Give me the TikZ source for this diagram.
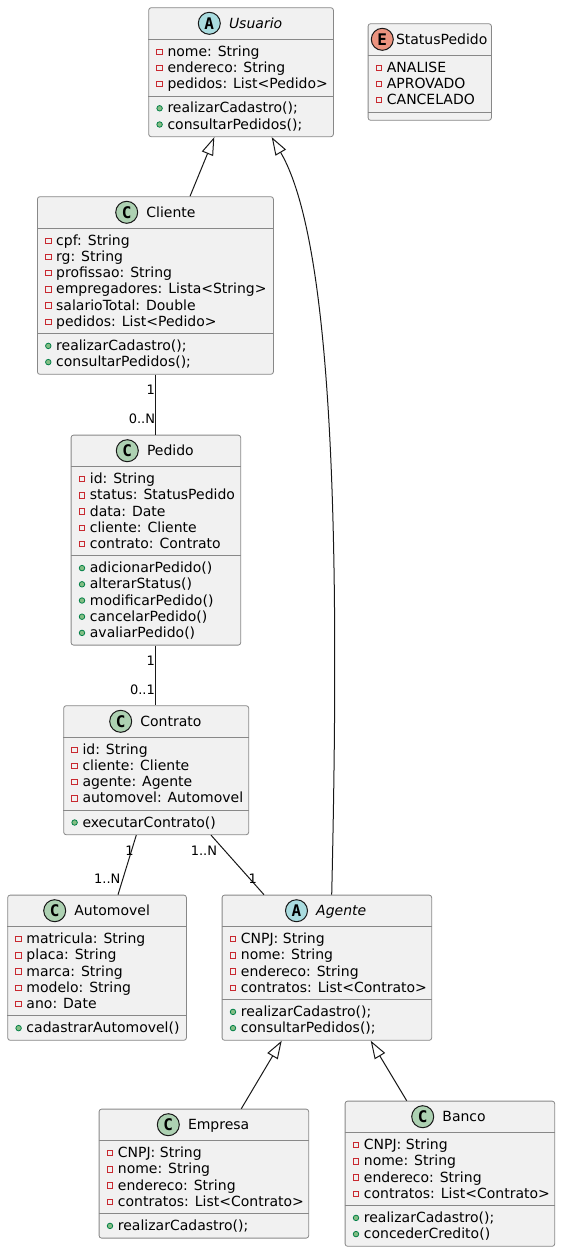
\documentclass[tikz,border=0pt]{standalone}
\usepackage{fontspec}
\setmainfont{DejaVu Sans}
\newfontfamily\spotfont{DejaVu Sans Mono}
\usetikzlibrary{arrows.meta,positioning}
\definecolor{boxfill}{HTML}{F1F1F1}
\definecolor{boxline}{HTML}{181818}
\definecolor{frameline}{HTML}{888888}
\definecolor{spotC}{HTML}{ADD1B2}
\definecolor{spotA}{HTML}{A9DCDF}
\definecolor{spotE}{HTML}{EB937F}
\definecolor{privred}{HTML}{C82930}
\definecolor{pubfill}{HTML}{84BE84}
\definecolor{publine}{HTML}{038048}

\begin{document}
\begin{tikzpicture}[x=1pt, y=-1pt,
    classbox/.style = {draw=frameline, line width=0.8pt, fill=boxfill,
      rounded corners=2.5pt, anchor=north west, inner sep=0pt},
    spot/.style = {circle, draw=boxline, line width=1pt, minimum size=22pt,
      inner sep=0pt, font=\spotfont\bfseries\fontsize{16}{16}\selectfont},
    ctitle/.style = {inner sep=0pt, text height=10pt, text depth=0pt,
      font=\fontsize{14}{16.2}\selectfont},
    abstract/.style = {font=\fontsize{14}{16.2}\selectfont\itshape},
    attr/.style = {inner sep=0pt, anchor=base west, font=\fontsize{14}{16.2}\selectfont},
    priv/.style = {draw=privred, line width=0.9pt, minimum size=5.5pt, inner sep=0pt},
    pub/.style = {circle, draw=publine, fill=pubfill, line width=0.8pt,
      minimum size=5.5pt, inner sep=0pt},
    sepline/.style = {draw=frameline, line width=0.8pt},
    extends/.style = {draw=boxline, line width=1pt,
      -{Triangle[open, length=18pt, width=12pt]}},
    assoc/.style = {draw=boxline, line width=1pt},
    mult/.style = {inner sep=0pt, font=\fontsize{13}{15}\selectfont}]
  \useasboundingbox (0,0) rectangle (560,1251);

  % Usuario
  \node[classbox, minimum width=184.7pt, minimum height=129pt] (usuario) at (148.3,7.3) {};
  \node[spot, fill=spotA] (usuarioS) at ([shift={(61,16)}]usuario.north west) {A};
  \node[ctitle, abstract, right=8pt of usuarioS] (usuarioT) {Usuario};
  \draw[sepline] ([yshift=-32pt]usuario.north west) -- ([yshift=-32pt]usuario.north east);
  \draw[sepline] ([yshift=-88.6pt]usuario.north west) -- ([yshift=-88.6pt]usuario.north east);
  \foreach \m [count=\i from 0] in {nome: String, endereco: String, pedidos: List<Pedido>} {
    \node[priv] (usuarioV\i) at ([shift={(11.3,44.4+16.2*\i)}]usuario.north west) {};
    \node[attr] (usuarioA\i) at ([shift={(19,49+16.2*\i)}]usuario.north west) {\m};
  }
  \foreach \m [count=\i from 0] in {realizarCadastro();, consultarPedidos();} {
    \node[pub] (usuarioP\i) at ([shift={(11.3,101+16.2*\i)}]usuario.north west) {};
    \node[attr] (usuarioM\i) at ([shift={(19,105.6+16.2*\i)}]usuario.north west) {\m};
  }

  % StatusPedido
  \node[classbox, minimum width=123.3pt, minimum height=96.6pt] (status) at (367.7,23.3) {};
  \node[spot, fill=spotE] (statusS) at ([shift={(14.6,16)}]status.north west) {E};
  \node[ctitle, right=2pt of statusS] (statusT) {StatusPedido};
  \draw[sepline] ([yshift=-32pt]status.north west) -- ([yshift=-32pt]status.north east);
  \draw[sepline] ([yshift=-88.6pt]status.north west) -- ([yshift=-88.6pt]status.north east);
  \foreach \m [count=\i from 0] in {ANALISE, APROVADO, CANCELADO} {
    \node[priv] (statusV\i) at ([shift={(11.3,44.4+16.2*\i)}]status.north west) {};
    \node[attr] (statusA\i) at ([shift={(19,49+16.2*\i)}]status.north west) {\m};
  }

  % Cliente
  \node[classbox, minimum width=236pt, minimum height=177.6pt] (cliente) at (37,196.3) {};
  \node[spot, fill=spotC] (clienteS) at ([shift={(89.7,16)}]cliente.north west) {C};
  \node[ctitle, right=8pt of clienteS] (clienteT) {Cliente};
  \draw[sepline] ([yshift=-32pt]cliente.north west) -- ([yshift=-32pt]cliente.north east);
  \draw[sepline] ([yshift=-137.2pt]cliente.north west) -- ([yshift=-137.2pt]cliente.north east);
  \foreach \m [count=\i from 0] in {cpf: String, rg: String, profissao: String,
      empregadores: Lista<String>, salarioTotal: Double, pedidos: List<Pedido>} {
    \node[priv] (clienteV\i) at ([shift={(11.3,44.4+16.2*\i)}]cliente.north west) {};
    \node[attr] (clienteA\i) at ([shift={(19,49+16.2*\i)}]cliente.north west) {\m};
  }
  \foreach \m [count=\i from 0] in {realizarCadastro();, consultarPedidos();} {
    \node[pub] (clienteP\i) at ([shift={(11.3,149.6+16.2*\i)}]cliente.north west) {};
    \node[attr] (clienteM\i) at ([shift={(19,154.2+16.2*\i)}]cliente.north west) {\m};
  }

  % Pedido
  \node[classbox, minimum width=169.6pt, minimum height=210pt] (pedido) at (70.7,434.7) {};
  \node[spot, fill=spotC] (pedidoS) at ([shift={(56.6,16)}]pedido.north west) {C};
  \node[ctitle, right=8pt of pedidoS] (pedidoT) {Pedido};
  \draw[sepline] ([yshift=-32pt]pedido.north west) -- ([yshift=-32pt]pedido.north east);
  \draw[sepline] ([yshift=-121pt]pedido.north west) -- ([yshift=-121pt]pedido.north east);
  \foreach \m [count=\i from 0] in {id: String, status: StatusPedido, data: Date,
      cliente: Cliente, contrato: Contrato} {
    \node[priv] (pedidoV\i) at ([shift={(11.3,44.4+16.2*\i)}]pedido.north west) {};
    \node[attr] (pedidoA\i) at ([shift={(19,49+16.2*\i)}]pedido.north west) {\m};
  }
  \foreach \m [count=\i from 0] in {adicionarPedido(), alterarStatus(), modificarPedido(),
      cancelarPedido(), avaliarPedido()} {
    \node[pub] (pedidoP\i) at ([shift={(11.3,133.4+16.2*\i)}]pedido.north west) {};
    \node[attr] (pedidoM\i) at ([shift={(19,138+16.2*\i)}]pedido.north west) {\m};
  }

  % Contrato
  \node[classbox, minimum width=185pt, minimum height=129pt] (contrato) at (63.3,705.3) {};
  \node[spot, fill=spotC] (contratoS) at ([shift={(57.4,16)}]contrato.north west) {C};
  \node[ctitle, right=8pt of contratoS] (contratoT) {Contrato};
  \draw[sepline] ([yshift=-32pt]contrato.north west) -- ([yshift=-32pt]contrato.north east);
  \draw[sepline] ([yshift=-104.8pt]contrato.north west) -- ([yshift=-104.8pt]contrato.north east);
  \foreach \m [count=\i from 0] in {id: String, cliente: Cliente, agente: Agente,
      automovel: Automovel} {
    \node[priv] (contratoV\i) at ([shift={(11.3,44.4+16.2*\i)}]contrato.north west) {};
    \node[attr] (contratoA\i) at ([shift={(19,49+16.2*\i)}]contrato.north west) {\m};
  }
  \node[pub] (contratoP0) at ([shift={(11.3,117.2)}]contrato.north west) {};
  \node[attr] (contratoM0) at ([shift={(19,121.8)}]contrato.north west) {executarContrato()};

  % Automovel
  \node[classbox, minimum width=178.7pt, minimum height=145.2pt] (automovel) at (7.3,894.7) {};
  \node[spot, fill=spotC] (automovelS) at ([shift={(47.4,16)}]automovel.north west) {C};
  \node[ctitle, right=8pt of automovelS] (automovelT) {Automovel};
  \draw[sepline] ([yshift=-32pt]automovel.north west) -- ([yshift=-32pt]automovel.north east);
  \draw[sepline] ([yshift=-121pt]automovel.north west) -- ([yshift=-121pt]automovel.north east);
  \foreach \m [count=\i from 0] in {matricula: String, placa: String, marca: String,
      modelo: String, ano: Date} {
    \node[priv] (automovelV\i) at ([shift={(11.3,44.4+16.2*\i)}]automovel.north west) {};
    \node[attr] (automovelA\i) at ([shift={(19,49+16.2*\i)}]automovel.north west) {\m};
  }
  \node[pub] (automovelP0) at ([shift={(11.3,133.4)}]automovel.north west) {};
  \node[attr] (automovelM0) at ([shift={(19,138)}]automovel.north west) {cadastrarAutomovel()};

  % Agente
  \node[classbox, minimum width=209.6pt, minimum height=145.2pt] (agente) at (221.7,894.7) {};
  \node[spot, fill=spotA] (agenteS) at ([shift={(74.8,16)}]agente.north west) {A};
  \node[ctitle, abstract, right=8pt of agenteS] (agenteT) {Agente};
  \draw[sepline] ([yshift=-32pt]agente.north west) -- ([yshift=-32pt]agente.north east);
  \draw[sepline] ([yshift=-104.8pt]agente.north west) -- ([yshift=-104.8pt]agente.north east);
  \foreach \m [count=\i from 0] in {CNPJ: String, nome: String, endereco: String,
      contratos: List<Contrato>} {
    \node[priv] (agenteV\i) at ([shift={(11.3,44.4+16.2*\i)}]agente.north west) {};
    \node[attr] (agenteA\i) at ([shift={(19,49+16.2*\i)}]agente.north west) {\m};
  }
  \foreach \m [count=\i from 0] in {realizarCadastro();, consultarPedidos();} {
    \node[pub] (agenteP\i) at ([shift={(11.3,117.2+16.2*\i)}]agente.north west) {};
    \node[attr] (agenteM\i) at ([shift={(19,121.8+16.2*\i)}]agente.north west) {\m};
  }

  % Empresa
  \node[classbox, minimum width=209.6pt, minimum height=129pt] (empresa) at (98.7,1108.7) {};
  \node[spot, fill=spotC] (empresaS) at ([shift={(69.6,16)}]empresa.north west) {C};
  \node[ctitle, right=8pt of empresaS] (empresaT) {Empresa};
  \draw[sepline] ([yshift=-32pt]empresa.north west) -- ([yshift=-32pt]empresa.north east);
  \draw[sepline] ([yshift=-104.8pt]empresa.north west) -- ([yshift=-104.8pt]empresa.north east);
  \foreach \m [count=\i from 0] in {CNPJ: String, nome: String, endereco: String,
      contratos: List<Contrato>} {
    \node[priv] (empresaV\i) at ([shift={(11.3,44.4+16.2*\i)}]empresa.north west) {};
    \node[attr] (empresaA\i) at ([shift={(19,49+16.2*\i)}]empresa.north west) {\m};
  }
  \node[pub] (empresaP0) at ([shift={(11.3,117.2)}]empresa.north west) {};
  \node[attr] (empresaM0) at ([shift={(19,121.8)}]empresa.north west) {realizarCadastro();};

  % Banco
  \node[classbox, minimum width=209.6pt, minimum height=145.2pt] (banco) at (344.7,1100.7) {};
  \node[spot, fill=spotC] (bancoS) at ([shift={(78,16)}]banco.north west) {C};
  \node[ctitle, right=8pt of bancoS] (bancoT) {Banco};
  \draw[sepline] ([yshift=-32pt]banco.north west) -- ([yshift=-32pt]banco.north east);
  \draw[sepline] ([yshift=-104.8pt]banco.north west) -- ([yshift=-104.8pt]banco.north east);
  \foreach \m [count=\i from 0] in {CNPJ: String, nome: String, endereco: String,
      contratos: List<Contrato>} {
    \node[priv] (bancoV\i) at ([shift={(11.3,44.4+16.2*\i)}]banco.north west) {};
    \node[attr] (bancoA\i) at ([shift={(19,49+16.2*\i)}]banco.north west) {\m};
  }
  \foreach \m [count=\i from 0] in {realizarCadastro();, concederCredito()} {
    \node[pub] (bancoP\i) at ([shift={(11.3,117.2+16.2*\i)}]banco.north west) {};
    \node[attr] (bancoM\i) at ([shift={(19,121.8+16.2*\i)}]banco.north west) {\m};
  }

  % inheritance
  \draw[extends] ([xshift=153pt]cliente.north west) -- ([xshift=66pt]usuario.south west);
  \draw[extends] ([xshift=110pt]agente.north west)
    .. controls (338,620) and (340,254) .. ([xshift=123.4pt]usuario.south west);
  \draw[extends] ([xshift=142.6pt]empresa.north west) -- ([xshift=60pt]agente.south west);
  \draw[extends] ([xshift=62pt]banco.north west) -- ([xshift=149pt]agente.south west);

  % associations
  \draw[assoc] (pedido.north |- cliente.south) -- (pedido.north);
  \draw[assoc] (pedido.south) -- (pedido.south |- contrato.north);
  \draw[assoc] ([xshift=73pt]contrato.south west) -- ([xshift=110.7pt]automovel.north west);
  \draw[assoc] ([xshift=147.7pt]contrato.south west) -- ([xshift=42.3pt]agente.north west);

  % multiplicities
  \node[mult, anchor=base east] (m1) at (155.1,394.3) {1};
  \node[mult, anchor=base east] (m2) at (155.3,423.3) {0..N};
  \node[mult, anchor=base east] (m3) at (155.1,665) {1};
  \node[mult, anchor=base east] (m4) at (155.1,694) {0..1};
  \node[mult, anchor=base west] (m5) at (125.2,855.7) {1};
  \node[mult, anchor=base east] (m6) at (120.6,883.3) {1..N};
  \node[mult, anchor=base east] (m7) at (217.3,855.7) {1..N};
  \node[mult, anchor=base west] (m8) at (248.5,883.3) {1};
\end{tikzpicture}
\end{document}
